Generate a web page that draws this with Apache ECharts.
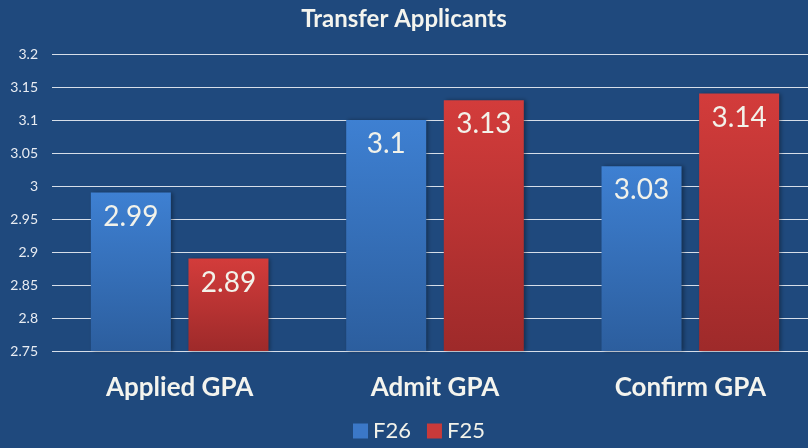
<!DOCTYPE html>
<html>
<head>
<meta charset="utf-8">
<script src="https://cdn.jsdelivr.net/npm/echarts@6/dist/echarts.min.js"></script>
<style>
  html, body { margin: 0; padding: 0; background: #1f497d; }
  #chart { width: 808px; height: 448px; }
</style>
</head>
<body>
<div id="chart"></div>
<script>
var categories = ['Applied GPA', 'Admit GPA', 'Confirm GPA'];
var f26 = [2.99, 3.1, 3.03];
var f25 = [2.89, 3.13, 3.14];
var yMin = 2.75, yMax = 3.2, yStep = 0.05;

var blue = new echarts.graphic.LinearGradient(0, 0, 0, 1, [
  { offset: 0, color: '#3e80d2' },
  { offset: 1, color: '#2c5e9e' }
]);
var red = new echarts.graphic.LinearGradient(0, 0, 0, 1, [
  { offset: 0, color: '#d33c3b' },
  { offset: 1, color: '#9e2a2a' }
]);

function barLabel() {
  return {
    show: true,
    position: 'insideTop',
    distance: 10,
    color: '#f2f2ea',
    fontSize: 28,
    fontFamily: 'Lato',
    formatter: function (p) { return p.value; }
  };
}

var myChart = echarts.init(document.getElementById('chart'));
var option = {
  backgroundColor: '#1f497d',
  animation: false,
  title: {
    text: 'Transfer Applicants',
    left: 'center',
    top: 2,
    textStyle: { color: '#f4f4ee', fontSize: 24, fontWeight: 'bold', fontFamily: 'Lato' }
  },
  legend: {
    bottom: 1,
    left: 348,
    itemWidth: 15,
    itemHeight: 15,
    itemGap: 16,
    icon: 'rect',
    textStyle: { color: '#f2f2ea', fontSize: 22, fontFamily: 'Lato' },
    data: [
      { name: 'F26', itemStyle: { color: '#3b78c8' } },
      { name: 'F25', itemStyle: { color: '#c93a3a' } }
    ]
  },
  grid: { left: 52, width: 766, top: 54, bottom: 97, outerBoundsMode: 'none' },
  xAxis: {
    type: 'category',
    data: categories,
    axisLine: { show: false },
    axisTick: { show: false },
    axisLabel: { color: '#f4f4ee', fontSize: 26, fontWeight: 'bold', fontFamily: 'Lato', margin: 24 }
  },
  yAxis: {
    type: 'value',
    min: yMin,
    max: yMax,
    interval: yStep,
    axisLine: { show: false },
    axisTick: { show: false },
    axisLabel: {
      color: '#e8ecf2',
      fontSize: 14,
      fontFamily: 'Lato',
      margin: 14,
      formatter: function (v) { return String(+v.toFixed(2)); }
    },
    splitLine: { lineStyle: { color: '#d6dee9', width: 1.2 } }
  },
  series: [
    {
      name: 'F26',
      type: 'bar',
      data: f26,
      barWidth: 80,
      barGap: '22%',
      itemStyle: { color: blue, shadowColor: 'rgba(0,0,0,0.35)', shadowBlur: 4, shadowOffsetX: 2 },
      label: barLabel()
    },
    {
      name: 'F25',
      type: 'bar',
      data: f25,
      barWidth: 80,
      itemStyle: { color: red, shadowColor: 'rgba(0,0,0,0.35)', shadowBlur: 4, shadowOffsetX: 2 },
      label: barLabel()
    }
  ]
};
myChart.setOption(option);
</script>
</body>
</html>
